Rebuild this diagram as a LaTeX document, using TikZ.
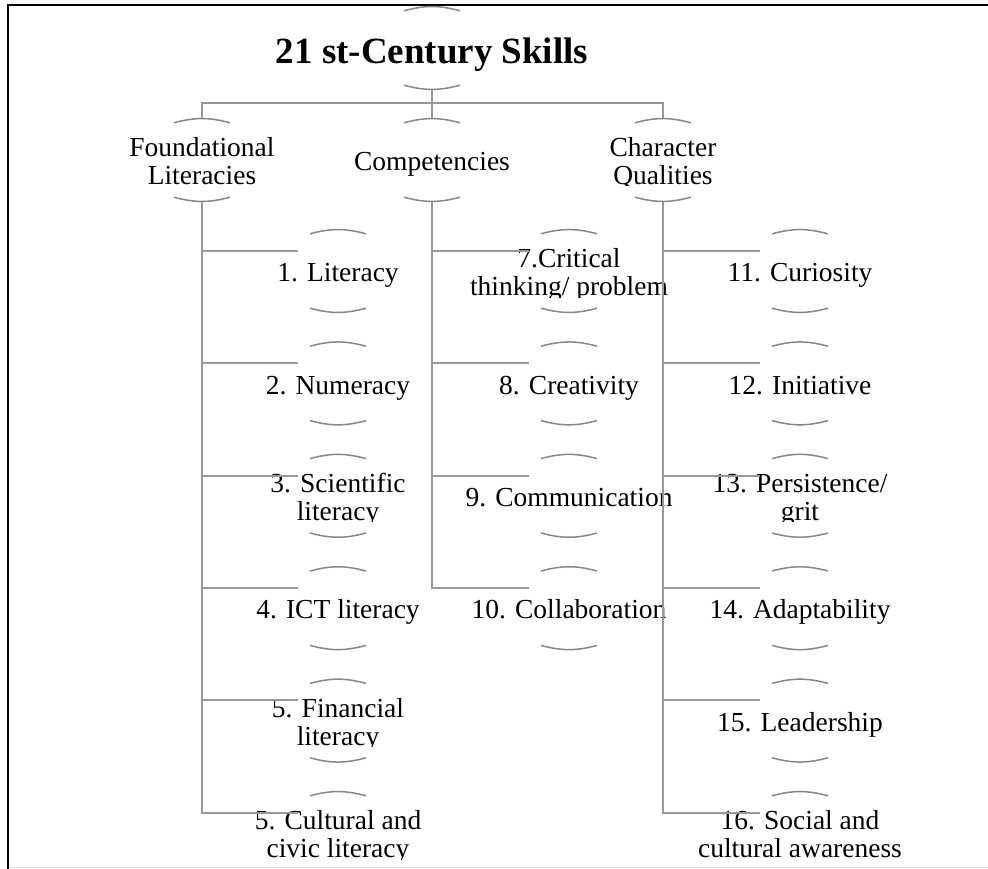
\documentclass[tikz,border=0pt]{standalone}
\usepackage{fontspec}
\setmainfont{Liberation Serif}
\definecolor{connc}{RGB}{152,152,152}
\definecolor{arcc}{RGB}{135,135,135}
% #1 name, #2 x, #3 y (centre), #4 style, #5 text
\newcommand\mkbox[5]{%
  \begin{scope}
    \clip (#2-170,#3-48) rectangle (#2+170,#3+26);
    \node[#4] (#1) at (#2,#3) {\makebox[0pt]{\raisebox{0pt}[\dimexpr\height+10pt\relax][\depth]{\begin{tabular}{@{}c@{}}#5\end{tabular}}}};
  \end{scope}}
\begin{document}
\begin{tikzpicture}[x=1pt,y=-1pt,
  conn/.style={draw=connc, line width=2pt},
  arcsty/.style={draw=arcc, line width=1.5pt},
  boxsty/.style={rectangle, inner sep=0pt, minimum width=80pt, minimum height=82pt,
    font=\fontsize{27.5}{28}\selectfont},
  titlesty/.style={rectangle, inner sep=0pt, minimum width=80pt, minimum height=82pt,
    font=\fontsize{37}{40}\selectfont\bfseries}]
\useasboundingbox (0,0) rectangle (988,869);
\fill[white] (0,0) rectangle (988,869);

% frame
\draw[black, line width=2.5pt] (988,5) -- (8,5) -- (8,869);
\draw[black!12, line width=1pt] (9,867) -- (988,867);

% nodes
\node[titlesty] (t) at (432,48) {\raisebox{0pt}[\dimexpr\height+14pt\relax][\depth]{21 st-Century Skills}};
\mkbox{fl}{202}{160}{boxsty}{Foundational\\Literacies}
\mkbox{co}{432}{160}{boxsty}{Competencies}
\mkbox{cq}{663}{160}{boxsty}{Character\\Qualities}

\mkbox{i1}{338}{271}{boxsty}{1. Literacy}
\mkbox{i2}{338}{383.4}{boxsty}{2. Numeracy}
\mkbox{i3}{338}{495.8}{boxsty}{3. Scientific\\literacy}
\mkbox{i4}{338}{608.2}{boxsty}{4. ICT literacy}
\mkbox{i5}{338}{720.6}{boxsty}{5. Financial\\literacy}
\mkbox{i6}{338}{833}{boxsty}{5. Cultural and\\civic literacy}

\mkbox{i7}{569}{271}{boxsty}{7.Critical\\thinking/ problem}
\mkbox{i8}{569}{383.4}{boxsty}{8. Creativity}
\mkbox{i9}{569}{495.8}{boxsty}{9. Communication}
\mkbox{i10}{569}{608.2}{boxsty}{10. Collaboration}

\mkbox{i11}{800}{271}{boxsty}{11. Curiosity}
\mkbox{i12}{800}{383.4}{boxsty}{12. Initiative}
\mkbox{i13}{800}{495.8}{boxsty}{13. Persistence/\\grit}
\mkbox{i14}{800}{608.2}{boxsty}{14. Adaptability}
\mkbox{i15}{800}{720.6}{boxsty}{15. Leadership}
\mkbox{i16}{800}{833}{boxsty}{16. Social and\\cultural awareness}

% connectors
\draw[conn] (t.south) -- ++(0,14) -| (fl.north);
\draw[conn] (t.south) -- ++(0,14) -| (cq.north);
\draw[conn] (t.south) -- (co.north);
\foreach \n in {i1,i2,i3,i4,i5,i6}
  \draw[conn] (fl.south) |- ([yshift=-21pt]\n.north west);
\foreach \n in {i7,i8,i9,i10}
  \draw[conn] (co.south) |- ([yshift=-21pt]\n.north west);
\foreach \n in {i11,i12,i13,i14,i15,i16}
  \draw[conn] (cq.south) |- ([yshift=-21pt]\n.north west);

% bracket arcs
\foreach \n in {t,fl,co,cq,i1,i2,i3,i4,i5,i6,i7,i8,i9,i10,i11,i12,i13,i14,i15,i16} {
  \draw[arcsty] ([xshift=-28pt,yshift=-4pt]\n.north) to[bend left=15] ([xshift=28pt,yshift=-4pt]\n.north);
  \draw[arcsty] ([xshift=-28pt,yshift=4pt]\n.south) to[bend right=15] ([xshift=28pt,yshift=4pt]\n.south);
}
\end{tikzpicture}
\end{document}
